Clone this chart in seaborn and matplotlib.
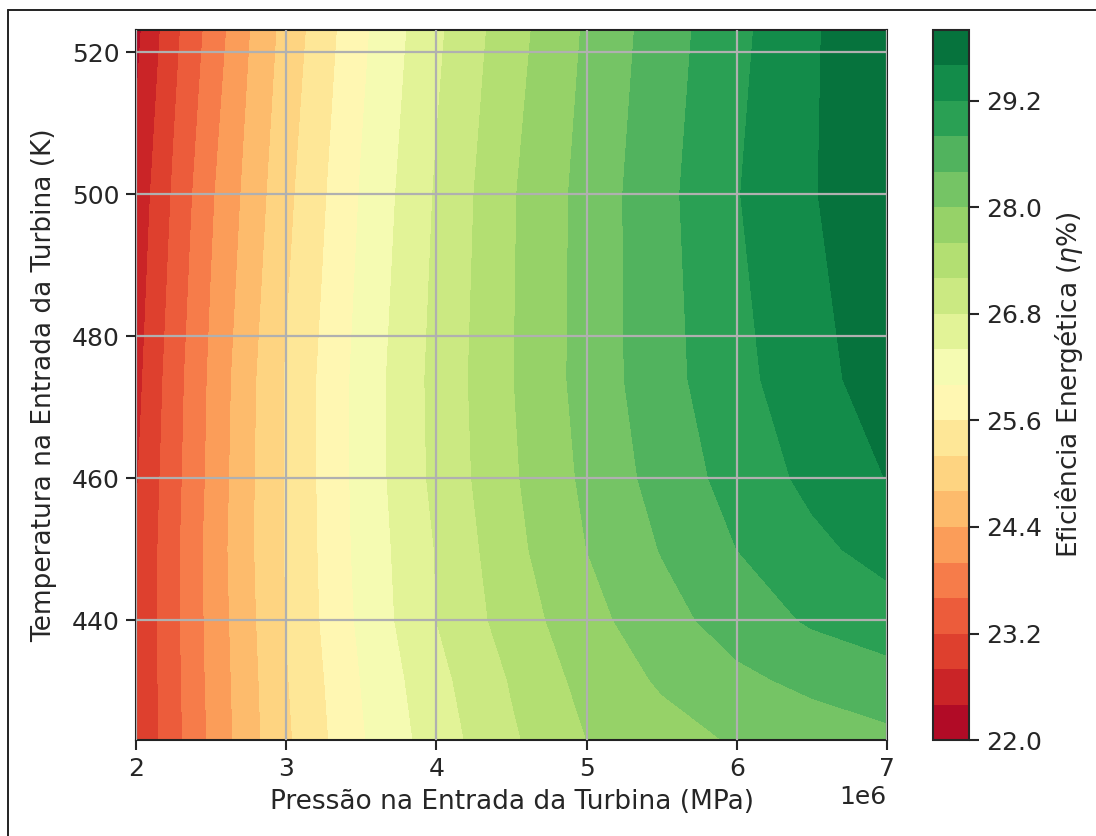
import numpy as np
import matplotlib
matplotlib.use("Agg")
import matplotlib.pyplot as plt
from matplotlib.lines import Line2D
import seaborn as sns

# Turbine inlet pressure (MPa) and temperature (K) sampling grid
pressure_mpa = [2.0, 2.25, 2.5, 2.75, 3.0, 3.5, 4.0, 4.5, 5.0, 5.5, 6.0, 6.5, 7.0]
temperature_k = [423.15, 431.6, 440.0, 450.0, 460.0, 474.0, 500.0, 523.15]

# Energy efficiency (%) for each temperature row, one value per pressure
eff_t423 = [22.82, 23.45, 24.07, 24.64, 25.13, 25.96, 26.60, 27.14, 27.60, 27.84, 28.04, 28.17, 28.30]
eff_t432 = [22.82, 23.47, 24.10, 24.66, 25.17, 26.01, 26.68, 27.23, 27.73, 28.05, 28.31, 28.50, 28.65]
eff_t440 = [22.82, 23.48, 24.12, 24.69, 25.21, 26.08, 26.80, 27.38, 27.86, 28.25, 28.58, 28.85, 29.01]
eff_t450 = [22.81, 23.48, 24.14, 24.72, 25.22, 26.12, 26.82, 27.48, 28.00, 28.42, 28.80, 29.10, 29.35]
eff_t460 = [22.76, 23.45, 24.10, 24.71, 25.23, 26.14, 26.90, 27.54, 28.08, 28.55, 28.95, 29.30, 29.61]
eff_t474 = [22.67, 23.41, 24.07, 24.68, 25.23, 26.14, 26.92, 27.58, 28.15, 28.65, 29.08, 29.46, 29.80]
eff_t500 = [22.52, 23.25, 23.94, 24.52, 25.09, 26.03, 26.84, 27.56, 28.14, 28.68, 29.18, 29.57, 29.93]
eff_t523 = [22.29, 23.08, 23.74, 24.37, 24.94, 25.91, 26.72, 27.44, 28.05, 28.60, 29.10, 29.55, 29.95]

# Contour levels of the colour scale
level_min, level_max, n_levels = 22.0, 30.0, 21

sns.set_style("ticks")
plt.rcParams["font.family"] = ["DejaVu Sans"]
FS_LABEL = 19
FS_TICK = 18
plt.rcParams["font.size"] = FS_TICK

P = np.array(pressure_mpa) * 1e6
T = np.array(temperature_k)
Z = np.array([eff_t423, eff_t432, eff_t440, eff_t450,
              eff_t460, eff_t474, eff_t500, eff_t523])

W, H = 1096, 836
fig = plt.figure(figsize=(W / 100, H / 100), dpi=100)
ax = fig.add_axes([136 / W, 1 - 740 / H, (887 - 136) / W, (740 - 30) / H])
cax = fig.add_axes([933 / W, 1 - 740 / H, 36 / W, (740 - 30) / H])

cmap = sns.color_palette("RdYlGn", as_cmap=True)
levels = np.linspace(level_min, level_max, n_levels)
cs = ax.contourf(P, T, Z, levels=levels, cmap=cmap)

ax.grid(True, color="#b0b0b0", linewidth=1.6)
ax.set_axisbelow(False)
ax.set_xlabel("Pressão na Entrada da Turbina (MPa)", fontsize=FS_LABEL, labelpad=6)
ax.set_ylabel("Temperatura na Entrada da Turbina (K)", fontsize=FS_LABEL, labelpad=10)
ax.tick_params(labelsize=FS_TICK, length=7, width=1.5, pad=5)
ax.xaxis.get_offset_text().set_fontsize(FS_TICK)
for sp in ax.spines.values():
    sp.set_linewidth(1.5)
    sp.set_color("#222222")

cbar = fig.colorbar(cs, cax=cax)
cbar.set_label("Eficiência Energética ($\\eta$%)", fontsize=FS_LABEL, labelpad=8)
cbar.ax.tick_params(labelsize=FS_TICK, length=7, width=1.5, pad=5)
cbar.outline.set_linewidth(1.5)

# Frame around the figure
fig.add_artist(Line2D([8 / W, 8 / W], [0, 1 - 10 / H], transform=fig.transFigure,
                      color="#222222", linewidth=1.4))
fig.add_artist(Line2D([8 / W, 1], [1 - 10 / H, 1 - 10 / H], transform=fig.transFigure,
                      color="#222222", linewidth=1.4))

fig.savefig("out.png", dpi=100)
